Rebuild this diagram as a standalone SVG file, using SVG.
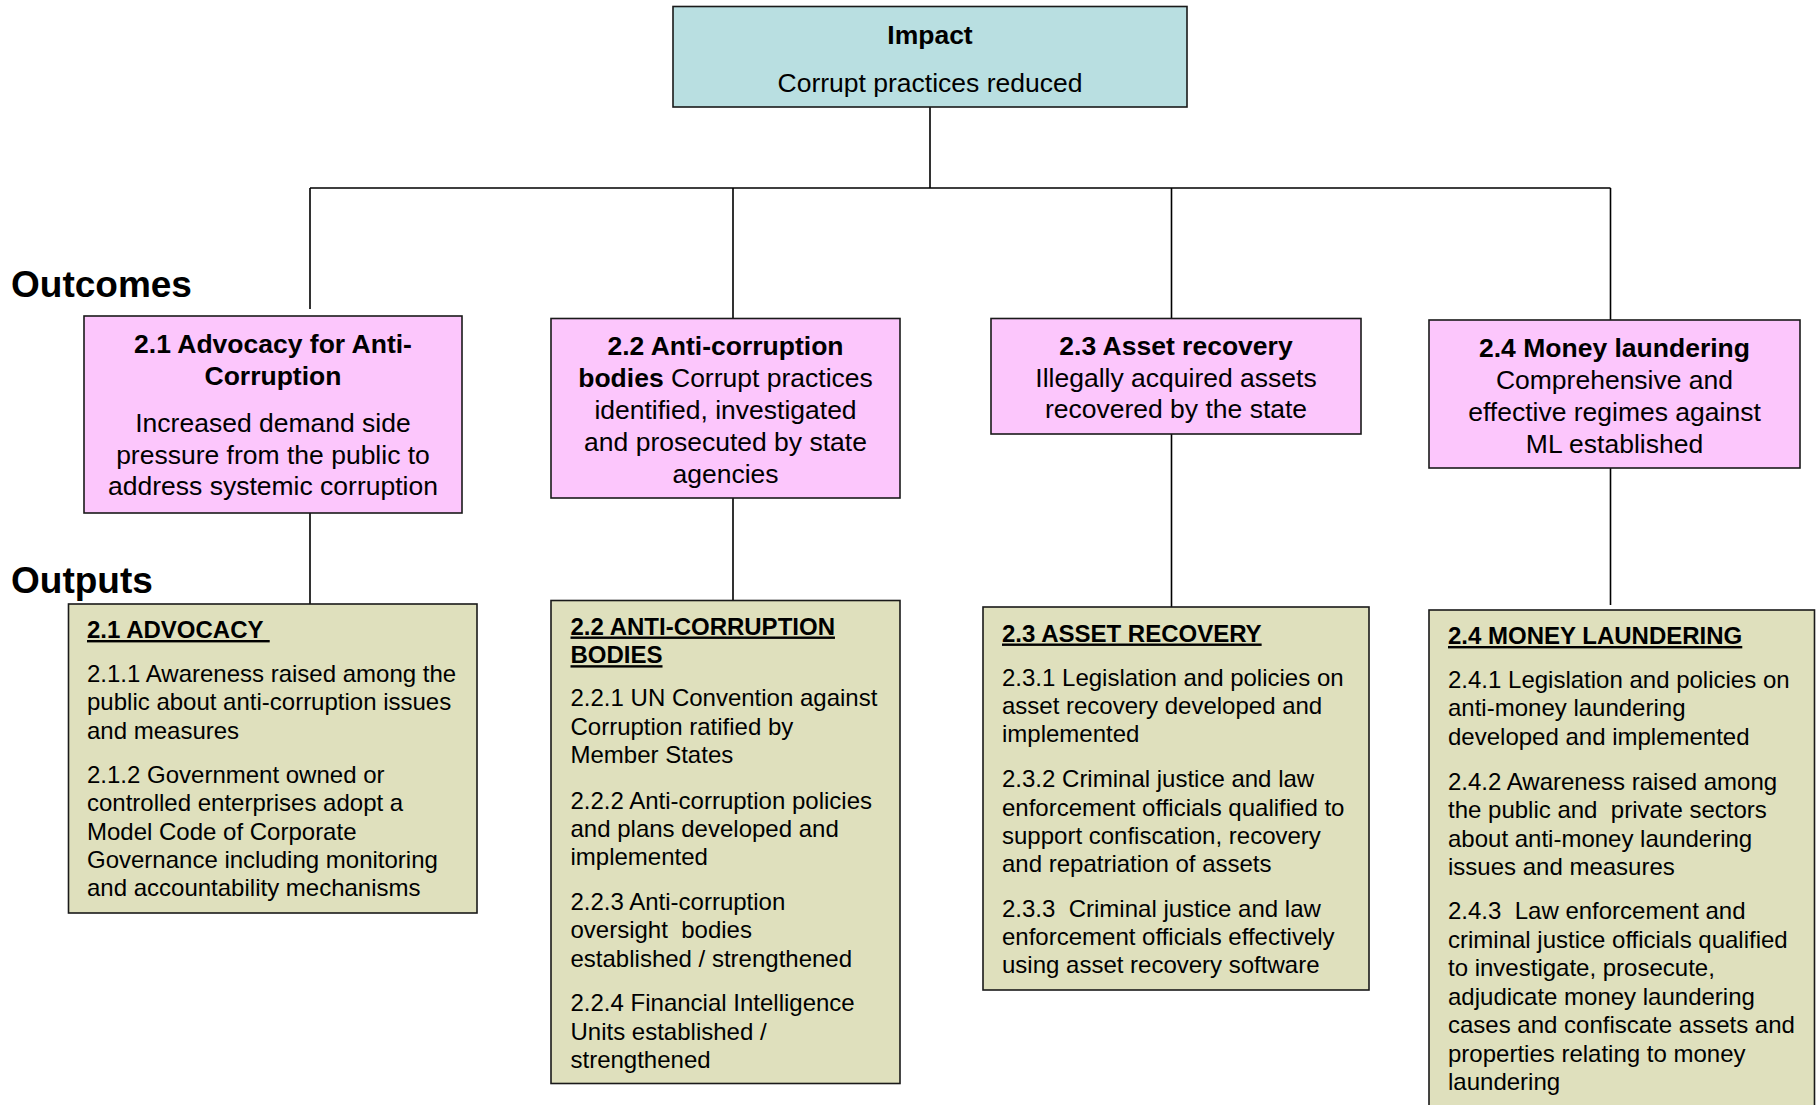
<svg xmlns="http://www.w3.org/2000/svg" width="1818" height="1105" viewBox="0 0 1818 1105">
<style>
text{font-family:"Liberation Sans",Arial,sans-serif;fill:#000;white-space:pre}
.box{stroke:#1a1a1a;stroke-width:1.6}
.imp{fill:#b9dfe1}
.out{fill:#fcc6fc}
.op{fill:#dfe0bd}
.c{font-size:26.5px;text-anchor:middle}
.b{font-weight:bold}
.lbl{font-size:37px;font-weight:bold}
.t{font-size:24px}
.h{font-size:24px;font-weight:bold;text-decoration:underline}
.con{stroke:#000;stroke-width:1.6;fill:none}
</style>
<rect width="1818" height="1105" fill="#fff"/>
<g id="connectors">
<path class="con" d="M930 107V188M310 188H1610.5M310 188V309M733 188V318.5M1171.5 188V318.5M1610.5 188V320M310 513V604M733 498V600.5M1171.5 434V607M1610.5 468V605"/>
</g>
<text class="lbl" x="11" y="297">Outcomes</text>
<text class="lbl" x="11" y="593">Outputs</text>
<g id="impact">
<rect class="box imp" x="673" y="6.5" width="514" height="100.5"/>
<text class="c b" x="930" y="44">Impact</text>
<text class="c" x="930" y="92">Corrupt practices reduced</text>
</g>
<g id="outcome-2-1">
<rect class="box out" x="84" y="316" width="378" height="197"/>
<text class="c b" x="273" y="353">2.1 Advocacy for Anti-</text>
<text class="c b" x="273" y="384.5">Corruption</text>
<text class="c" x="273" y="432">Increased demand side</text>
<text class="c" x="273" y="463.5">pressure from the public to</text>
<text class="c" x="273" y="495">address systemic corruption</text>
</g>
<g id="outcome-2-2">
<rect class="box out" x="551" y="318.5" width="349" height="179.5"/>
<text class="c b" x="725.5" y="355">2.2 Anti-corruption</text>
<text class="c" x="725.5" y="386.5"><tspan class="b">bodies</tspan> Corrupt practices</text>
<text class="c" x="725.5" y="418.5">identified, investigated</text>
<text class="c" x="725.5" y="450.5">and prosecuted by state</text>
<text class="c" x="725.5" y="482.5">agencies</text>
</g>
<g id="outcome-2-3">
<rect class="box out" x="991" y="318.5" width="370" height="115.5"/>
<text class="c b" x="1176" y="355">2.3 Asset recovery</text>
<text class="c" x="1176" y="386.5">Illegally acquired assets</text>
<text class="c" x="1176" y="418">recovered by the state</text>
</g>
<g id="outcome-2-4">
<rect class="box out" x="1429" y="320" width="371" height="148"/>
<text class="c b" x="1614.5" y="357">2.4 Money laundering</text>
<text class="c" x="1614.5" y="389">Comprehensive and</text>
<text class="c" x="1614.5" y="421">effective regimes against</text>
<text class="c" x="1614.5" y="453">ML established</text>
</g>
<g id="output-2-1">
<rect class="box op" x="68.5" y="604" width="408.5" height="309"/>
<text class="h" x="87" y="638">2.1 ADVOCACY </text>
<text class="t" x="87" y="682">2.1.1 Awareness raised among the</text>
<text class="t" x="87" y="710.3">public about anti-corruption issues</text>
<text class="t" x="87" y="738.6">and measures</text>
<text class="t" x="87" y="783">2.1.2 Government owned or</text>
<text class="t" x="87" y="811.3">controlled enterprises adopt a</text>
<text class="t" x="87" y="839.6">Model Code of Corporate</text>
<text class="t" x="87" y="867.9">Governance including monitoring</text>
<text class="t" x="87" y="896.2">and accountability mechanisms</text>
</g>
<g id="output-2-2">
<rect class="box op" x="551" y="600.5" width="349" height="483"/>
<text class="h" x="570.5" y="634.5">2.2 ANTI-CORRUPTION</text>
<text class="h" x="570.5" y="663.2">BODIES</text>
<text class="t" x="570.5" y="706">2.2.1 UN Convention against</text>
<text class="t" x="570.5" y="734.5">Corruption ratified by</text>
<text class="t" x="570.5" y="763">Member States</text>
<text class="t" x="570.5" y="808.5">2.2.2 Anti-corruption policies</text>
<text class="t" x="570.5" y="837">and plans developed and</text>
<text class="t" x="570.5" y="865.3">implemented</text>
<text class="t" x="570.5" y="909.5">2.2.3 Anti-corruption</text>
<text class="t" x="570.5" y="938">oversight  bodies</text>
<text class="t" x="570.5" y="966.5">established / strengthened</text>
<text class="t" x="570.5" y="1011">2.2.4 Financial Intelligence</text>
<text class="t" x="570.5" y="1039.5">Units established /</text>
<text class="t" x="570.5" y="1068">strengthened</text>
</g>
<g id="output-2-3">
<rect class="box op" x="983" y="607" width="386" height="383"/>
<text class="h" x="1002" y="641.5">2.3 ASSET RECOVERY</text>
<text class="t" x="1002" y="685.8">2.3.1 Legislation and policies on</text>
<text class="t" x="1002" y="714.1">asset recovery developed and</text>
<text class="t" x="1002" y="742.4">implemented</text>
<text class="t" x="1002" y="787.3">2.3.2 Criminal justice and law</text>
<text class="t" x="1002" y="815.6">enforcement officials qualified to</text>
<text class="t" x="1002" y="843.9">support confiscation, recovery</text>
<text class="t" x="1002" y="872.2">and repatriation of assets</text>
<text class="t" x="1002" y="916.6">2.3.3  Criminal justice and law</text>
<text class="t" x="1002" y="944.9">enforcement officials effectively</text>
<text class="t" x="1002" y="973.2">using asset recovery software</text>
</g>
<g id="output-2-4">
<rect class="box op" x="1429" y="610" width="385.5" height="520"/>
<text class="h" x="1448" y="644">2.4 MONEY LAUNDERING</text>
<text class="t" x="1448" y="687.5">2.4.1 Legislation and policies on</text>
<text class="t" x="1448" y="716">anti-money laundering</text>
<text class="t" x="1448" y="744.5">developed and implemented</text>
<text class="t" x="1448" y="789.8">2.4.2 Awareness raised among</text>
<text class="t" x="1448" y="818.2">the public and  private sectors</text>
<text class="t" x="1448" y="846.6">about anti-money laundering</text>
<text class="t" x="1448" y="875">issues and measures</text>
<text class="t" x="1448" y="919.4">2.4.3  Law enforcement and</text>
<text class="t" x="1448" y="947.9">criminal justice officials qualified</text>
<text class="t" x="1448" y="976.4">to investigate, prosecute,</text>
<text class="t" x="1448" y="1004.9">adjudicate money laundering</text>
<text class="t" x="1448" y="1033.4">cases and confiscate assets and</text>
<text class="t" x="1448" y="1061.9">properties relating to money</text>
<text class="t" x="1448" y="1090.4">laundering</text>
</g>
</svg>
